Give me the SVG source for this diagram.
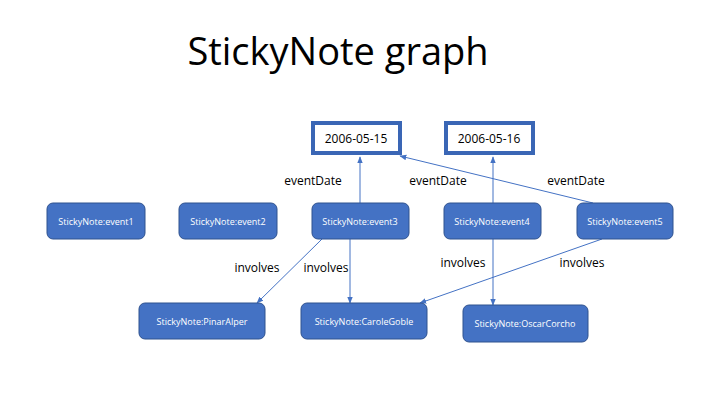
<svg xmlns="http://www.w3.org/2000/svg" width="720" height="405" viewBox="0 0 720 405">
<style>
.node{fill:#4472C4;stroke:#2F528F;stroke-width:1}
.nt{fill:#fff;font-family:"Open Sans","Liberation Sans",sans-serif;font-size:9px;text-anchor:middle;dominant-baseline:central}
.date{fill:#fff;stroke:#3A66B5;stroke-width:4}
.dt{fill:#000;font-family:"Open Sans","Liberation Sans",sans-serif;font-size:12px;text-anchor:middle;dominant-baseline:central}
.lbl{fill:#000;font-family:"Open Sans","Liberation Sans",sans-serif;font-size:12px;text-anchor:middle;dominant-baseline:central}
.edge{stroke:#4472C4;stroke-width:1;fill:none;marker-end:url(#ah)}
</style>
<defs>
<marker id="ah" viewBox="0 0 10 10" refX="9" refY="5" markerWidth="7" markerHeight="7" orient="auto" markerUnits="userSpaceOnUse">
<path d="M0,1 L10,5 L0,9 z" fill="#4472C4"/>
</marker>
</defs>
<rect width="720" height="405" fill="#fff"/>
<text x="338" y="50" font-family="Open Sans, Liberation Sans, sans-serif" font-size="38" text-anchor="middle" dominant-baseline="central" fill="#000">StickyNote graph</text>
<g id="connectors">
<line class="edge" x1="360" y1="203" x2="360" y2="157"/>
<line class="edge" x1="493" y1="203" x2="493" y2="157"/>
<line class="edge" x1="593" y1="203" x2="400" y2="156"/>
<line class="edge" x1="322" y1="239" x2="257" y2="303"/>
<line class="edge" x1="350" y1="239" x2="350" y2="303"/>
<line class="edge" x1="493" y1="239" x2="493" y2="305"/>
<line class="edge" x1="602" y1="239" x2="420" y2="303"/>
<text class="lbl" x="313" y="180">eventDate</text>
<text class="lbl" x="438" y="180">eventDate</text>
<text class="lbl" x="576" y="180">eventDate</text>
<text class="lbl" x="257" y="267">involves</text>
<text class="lbl" x="326" y="267">involves</text>
<text class="lbl" x="463" y="262">involves</text>
<text class="lbl" x="582" y="262">involves</text>
</g>
<g id="date1"><rect class="date" x="313" y="123" width="87" height="30"/><text class="dt" x="356" y="138">2006-05-15</text></g>
<g id="date2"><rect class="date" x="446" y="123" width="87" height="30"/><text class="dt" x="489" y="138">2006-05-16</text></g>
<g id="event1"><rect class="node" x="47" y="203" width="98" height="36" rx="6"/><text class="nt" x="96" y="221">StickyNote:event1</text></g>
<g id="event2"><rect class="node" x="179" y="203" width="98" height="36" rx="6"/><text class="nt" x="228" y="221">StickyNote:event2</text></g>
<g id="event3"><rect class="node" x="312" y="203" width="97" height="36" rx="6"/><text class="nt" x="360" y="221">StickyNote:event3</text></g>
<g id="event4"><rect class="node" x="444" y="203" width="97" height="36" rx="6"/><text class="nt" x="492" y="221">StickyNote:event4</text></g>
<g id="event5"><rect class="node" x="577" y="203" width="96" height="36" rx="6"/><text class="nt" x="625" y="221">StickyNote:event5</text></g>
<g id="pinar"><rect class="node" x="139" y="303" width="126" height="36" rx="6"/><text class="nt" x="202" y="321">StickyNote:PinarAlper</text></g>
<g id="carole"><rect class="node" x="301" y="303" width="126" height="36" rx="6"/><text class="nt" x="364" y="321">StickyNote:CaroleGoble</text></g>
<g id="oscar"><rect class="node" x="463" y="305" width="125" height="37" rx="6"/><text class="nt" x="525" y="323">StickyNote:OscarCorcho</text></g>
</svg>
